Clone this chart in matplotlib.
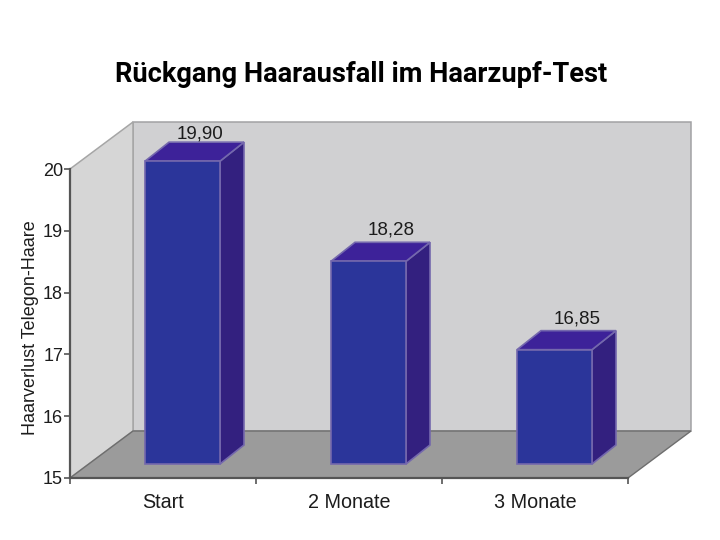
import matplotlib
matplotlib.use("Agg")
import matplotlib.pyplot as plt
from matplotlib.patches import Polygon
from matplotlib.transforms import Affine2D

plt.rcParams['font.family'] = ['Liberation Sans', 'DejaVu Sans']

title = "Rückgang Haarausfall im Haarzupf-Test"
ylabel = "Haarverlust Telegon-Haare"
categories = ["Start", "2 Monate", "3 Monate"]
values = [19.90, 18.28, 16.85]
value_labels = ["19,90", "18,28", "16,85"]
yticks = [15, 16, 17, 18, 19, 20]

W, H = 720, 540
fig = plt.figure(figsize=(W / 100, H / 100), dpi=100, facecolor="white")
L, R, B, T = 70, 628, 478, 169
ax = fig.add_axes([L / W, 1 - B / H, (R - L) / W, (B - T) / H])
ax.set_xlim(0, 3)
ax.set_ylim(15, 20)
ax.patch.set_visible(False)

ux = (R - L) / 3          # px per category
uy = (B - T) / 5          # px per value unit
dx, dy = 63 / ux, 47 / uy   # chart depth in data units
bx, by = 24 / ux, 19 / uy   # bar depth in data units
shift = Affine2D().translate(19.5, 14)  # bars stand inside the floor
bar_tr = ax.transData + shift
bar_w = 75 / ux


def poly(pts, fc, ec, lw, z, tr=None):
    ax.add_patch(Polygon(pts, closed=True, facecolor=fc, edgecolor=ec, linewidth=lw,
                         zorder=z, clip_on=False,
                         transform=tr if tr is not None else ax.transData))


# walls and floor
poly([(dx, 15 + dy), (3 + dx, 15 + dy), (3 + dx, 20 + dy), (dx, 20 + dy)],
     "#d0d0d2", "#a2a2a4", 1.1, 1)
poly([(0, 15), (dx, 15 + dy), (dx, 20 + dy), (0, 20)], "#d6d6d6", "#a6a6a6", 1.1, 1)
poly([(0, 15), (3, 15), (3 + dx, 15 + dy), (dx, 15 + dy)], "#9b9b9b", "#6e6e6e", 1.0, 1.5)

# bars
xs = [i + 0.5 for i in range(len(values))]
edge = "#7468ad"
ax.bar(xs, [v - 15 for v in values], bottom=15, width=bar_w, color="#2b359a",
       edgecolor=edge, linewidth=1.2, transform=bar_tr, zorder=3, clip_on=False)
for x, v in zip(xs, values):
    x0, x1 = x - bar_w / 2, x + bar_w / 2
    poly([(x1, 15), (x1 + bx, 15 + by), (x1 + bx, v + by), (x1, v)],
         "#33207f", edge, 1.2, 2.5, bar_tr)
    poly([(x0, v), (x1, v), (x1 + bx, v + by), (x0 + bx, v + by)],
         "#3d2299", edge, 1.2, 2.5, bar_tr)

label_nudge = [(-5, 0), (-1, 2.5), (-1, 2.5)]
for x, v, s, n in zip(xs, values, value_labels, label_nudge):
    ax.annotate(s, xy=(x + bx, v + by), xycoords=bar_tr, xytext=n,
                textcoords="offset points", ha="center", va="bottom",
                fontsize=13.5, color="#1c1c1c", zorder=5)

# axes
for s in ("top", "right"):
    ax.spines[s].set_visible(False)
for s in ("left", "bottom"):
    ax.spines[s].set_color("#555555")
    ax.spines[s].set_linewidth(1.6)
    ax.spines[s].set_zorder(4)
ax.set_yticks(yticks)
ax.tick_params(axis="y", length=4, width=1.2, color="#555555", labelsize=13,
               labelcolor="#1c1c1c", pad=1)
ax.set_xticks([0, 1, 2, 3])
ax.set_xticklabels([])
ax.tick_params(axis="x", which="major", length=4.5, width=1.2, color="#555555")
ax.set_xticks(xs, minor=True)
ax.set_xticklabels(categories, minor=True)
ax.tick_params(axis="x", which="minor", length=0, labelsize=14.2, labelcolor="#1c1c1c", pad=10.5)

fig.text(31 / W, 1 - 328 / H, ylabel, rotation=90, ha="center", va="center",
         fontsize=13, color="#1c1c1c")

fig.text(361 / W, 1 - 75 / H, title, ha="center", va="center", family=['Roboto', 'Liberation Sans'],
         fontsize=19.6, fontweight="bold", color="black")

fig.savefig("out.png", dpi=100, facecolor="white")
